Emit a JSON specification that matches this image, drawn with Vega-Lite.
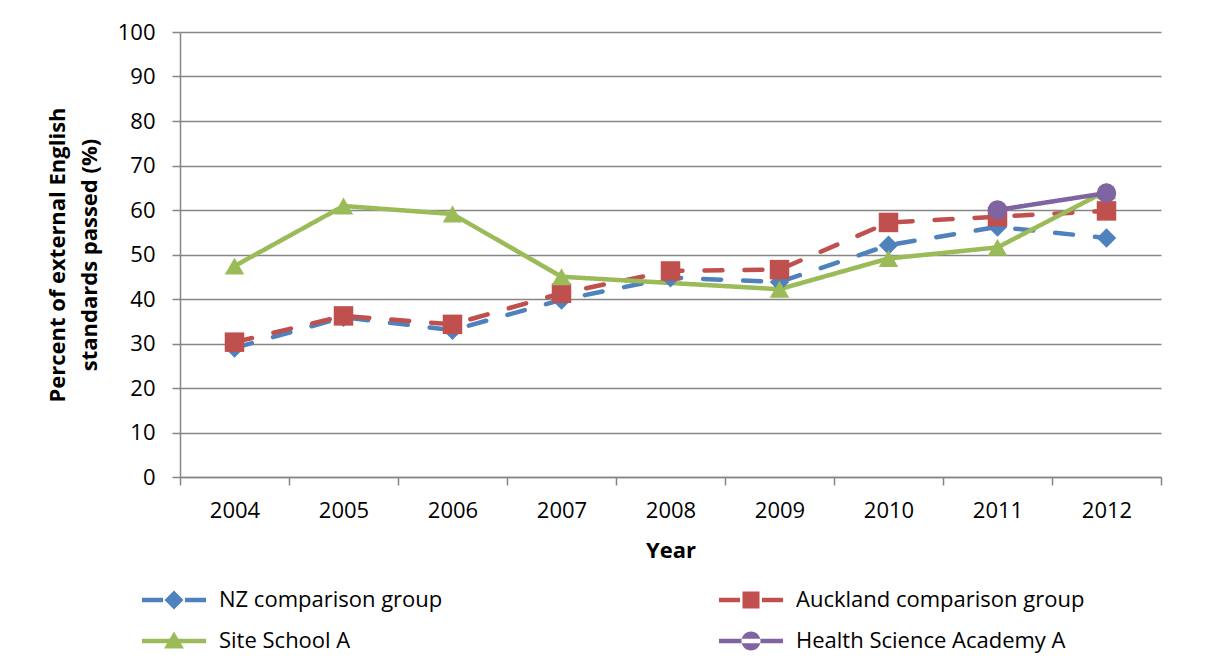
{
  "$schema": "https://vega.github.io/schema/vega-lite/v6.json",
  "width": 981,
  "height": 445,
  "autosize": "none",
  "padding": {"left": 180, "top": 32, "right": 48, "bottom": 183},
  "background": "white",
  "config": {
    "font": "Open Sans",
    "view": {"stroke": null},
    "legend": {
      "title": null,
      "orient": "none",
      "padding": 0,
      "symbolSize": 400,
      "symbolStrokeWidth": 0,
      "symbolOpacity": 1,
      "labelOffset": 56,
      "labelFontSize": 22,
      "labelColor": "#000000",
      "labelLimit": 400
    }
  },
  "data": {
    "values": [
      {"year": "2004", "series": "NZ comparison group", "value": 29.0},
      {"year": "2005", "series": "NZ comparison group", "value": 35.9},
      {"year": "2006", "series": "NZ comparison group", "value": 33.0},
      {"year": "2007", "series": "NZ comparison group", "value": 39.8},
      {"year": "2008", "series": "NZ comparison group", "value": 44.8},
      {"year": "2009", "series": "NZ comparison group", "value": 43.8},
      {"year": "2010", "series": "NZ comparison group", "value": 52.1},
      {"year": "2011", "series": "NZ comparison group", "value": 56.2},
      {"year": "2012", "series": "NZ comparison group", "value": 53.7},
      {"year": "2004", "series": "Auckland comparison group", "value": 30.3},
      {"year": "2005", "series": "Auckland comparison group", "value": 36.2},
      {"year": "2006", "series": "Auckland comparison group", "value": 34.3},
      {"year": "2007", "series": "Auckland comparison group", "value": 41.3},
      {"year": "2008", "series": "Auckland comparison group", "value": 46.3},
      {"year": "2009", "series": "Auckland comparison group", "value": 46.6},
      {"year": "2010", "series": "Auckland comparison group", "value": 57.2},
      {"year": "2011", "series": "Auckland comparison group", "value": 58.5},
      {"year": "2012", "series": "Auckland comparison group", "value": 59.8},
      {"year": "2004", "series": "Site School A", "value": 47.4},
      {"year": "2005", "series": "Site School A", "value": 60.9},
      {"year": "2006", "series": "Site School A", "value": 59.1},
      {"year": "2007", "series": "Site School A", "value": 45.0},
      {"year": "2009", "series": "Site School A", "value": 42.2},
      {"year": "2010", "series": "Site School A", "value": 49.1},
      {"year": "2011", "series": "Site School A", "value": 51.6},
      {"year": "2012", "series": "Site School A", "value": 64.3},
      {"year": "2011", "series": "Health Science Academy A", "value": 60.0},
      {"year": "2012", "series": "Health Science Academy A", "value": 63.8}
    ]
  },
  "encoding": {
    "x": {
      "field": "year",
      "type": "ordinal",
      "scale": {"type": "band", "paddingInner": 0, "paddingOuter": 0},
      "axis": {
        "title": "Year",
        "titleFontSize": 22,
        "titleFontWeight": "bold",
        "titleColor": "#000000",
        "titlePadding": 19,
        "labelFontSize": 22,
        "labelColor": "#000000",
        "labelAngle": 0,
        "labelPadding": 15,
        "tickBand": "extent",
        "tickSize": 8,
        "tickColor": "#868686",
        "tickWidth": 1.5,
        "domainColor": "#868686",
        "domainWidth": 1.5,
        "grid": false
      }
    },
    "y": {
      "field": "value",
      "type": "quantitative",
      "scale": {"domain": [0, 100], "nice": false},
      "axis": {
        "title": ["Percent of external English", "standards passed (%)"],
        "titleFontSize": 22,
        "titleFontWeight": "bold",
        "titleColor": "#000000",
        "titleLineHeight": 32,
        "titlePadding": 16,
        "labelFontSize": 22,
        "labelColor": "#000000",
        "labelPadding": 17,
        "values": [0, 10, 20, 30, 40, 50, 60, 70, 80, 90, 100],
        "tickSize": 8,
        "tickColor": "#868686",
        "tickWidth": 1.5,
        "domainColor": "#868686",
        "domainWidth": 1.5,
        "grid": true,
        "gridColor": "#868686",
        "gridWidth": 1.4
      }
    }
  },
  "resolve": {"scale": {"shape": "independent"}},
  "layer": [
    {
      "mark": {"type": "line", "strokeWidth": 4.5, "strokeCap": "round", "strokeJoin": "round"},
      "encoding": {
        "color": {
          "field": "series",
          "type": "nominal",
          "scale": {
            "domain": ["NZ comparison group", "Auckland comparison group", "Site School A", "Health Science Academy A"],
            "range": ["#4F81BD", "#C0504D", "#9BBB59", "#8064A2"]
          },
          "legend": null
        },
        "strokeDash": {
          "field": "series",
          "type": "nominal",
          "scale": {
            "domain": ["NZ comparison group", "Auckland comparison group", "Site School A", "Health Science Academy A"],
            "range": [[18, 22], [18, 22], [1, 0], [1, 0]]
          },
          "legend": null
        }
      }
    },
    {
      "mark": {"type": "point", "filled": true, "opacity": 1, "size": 380},
      "encoding": {
        "color": {
          "field": "series",
          "type": "nominal",
          "scale": {
            "domain": ["NZ comparison group", "Auckland comparison group", "Site School A", "Health Science Academy A"],
            "range": ["#4F81BD", "#C0504D", "#9BBB59", "#8064A2"]
          },
          "legend": null
        },
        "shape": {
          "field": "series",
          "type": "nominal",
          "scale": {
            "domain": ["NZ comparison group", "Auckland comparison group", "Site School A", "Health Science Academy A"],
            "range": ["diamond", "square", "triangle-up", "circle"]
          },
          "legend": null
        }
      }
    },
    {
      "transform": [{"filter": "datum.series === 'NZ comparison group'"}],
      "mark": {"type": "point", "filled": true, "opacity": 0, "color": "#4F81BD"},
      "encoding": {
        "shape": {
          "field": "series",
          "type": "nominal",
          "scale": {
            "domain": ["NZ comparison group"],
            "range": ["M-1,-0.22H1.1V0.22H-1Z M3.3,-0.22H5.4V0.22H3.3Z M2.2,-0.95L3.15,0L2.2,0.95L1.25,0Z"]
          },
          "legend": {"legendX": -39, "legendY": 557}
        }
      }
    },
    {
      "transform": [{"filter": "datum.series === 'Auckland comparison group'"}],
      "mark": {"type": "point", "filled": true, "opacity": 0, "color": "#C0504D"},
      "encoding": {
        "shape": {
          "field": "series",
          "type": "nominal",
          "scale": {
            "domain": ["Auckland comparison group"],
            "range": ["M-1,-0.22H1.1V0.22H-1Z M3.3,-0.22H5.4V0.22H3.3Z M1.35,-0.85H3.05V0.85H1.35Z"]
          },
          "legend": {"legendX": 538, "legendY": 557}
        }
      }
    },
    {
      "transform": [{"filter": "datum.series === 'Site School A'"}],
      "mark": {"type": "point", "filled": true, "opacity": 0, "color": "#9BBB59"},
      "encoding": {
        "shape": {
          "field": "series",
          "type": "nominal",
          "scale": {
            "domain": ["Site School A"],
            "range": ["M-1,-0.22H5.4V0.22H-1Z M2.2,-0.95L3.2,0.75H1.2Z"]
          },
          "legend": {"legendX": -39, "legendY": 598}
        }
      }
    },
    {
      "transform": [{"filter": "datum.series === 'Health Science Academy A'"}],
      "mark": {"type": "point", "filled": true, "opacity": 0, "color": "#8064A2"},
      "encoding": {
        "shape": {
          "field": "series",
          "type": "nominal",
          "scale": {
            "domain": ["Health Science Academy A"],
            "range": ["M-1,-0.22H5.4V0.22H-1Z M1.25,0A0.95,0.95 0 1,0 3.15,0A0.95,0.95 0 1,0 1.25,0Z"]
          },
          "legend": {"legendX": 538, "legendY": 598}
        }
      }
    }
  ]
}
